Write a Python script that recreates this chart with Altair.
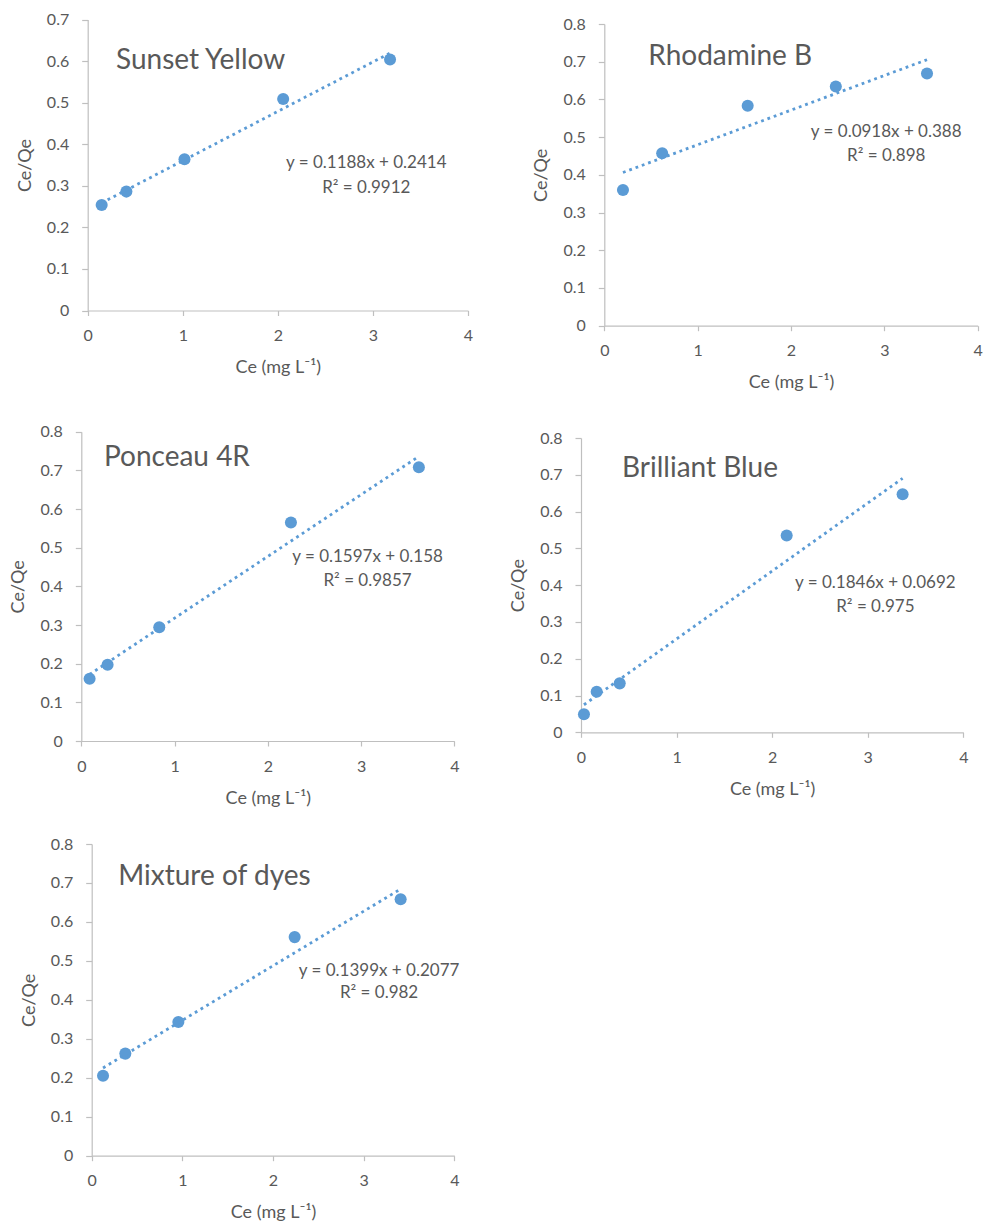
import altair as alt
import pandas as pd

# ---- shared styling -------------------------------------------------------
FONT = "Lato"
TEXT_GREY = "#595959"
AXIS_GREY = "#BFBFBF"
BLUE = "#5B9BD5"

X_TICKS = [0, 1, 2, 3, 4]
Y_TICKS_07 = [0, 0.1, 0.2, 0.3, 0.4, 0.5, 0.6, 0.7]
Y_TICKS_08 = [0, 0.1, 0.2, 0.3, 0.4, 0.5, 0.6, 0.7, 0.8]

X_TITLE = "Ce (mg L\u207b\u00b9)"
Y_TITLE = "Ce/Qe"

# ---- measured isotherm points (Ce vs Ce/Qe) --------------------------------
sunset_ce = [0.147, 0.407, 1.018, 2.056, 3.18]
sunset_ratio = [0.254, 0.286, 0.364, 0.509, 0.604]

rhodamine_ce = [0.20, 0.62, 1.536, 2.48, 3.457]
rhodamine_ratio = [0.360, 0.457, 0.583, 0.634, 0.669]

ponceau_ce = [0.089, 0.282, 0.836, 2.248, 3.62]
ponceau_ratio = [0.161, 0.197, 0.294, 0.565, 0.708]

blue_ce = [0.031, 0.164, 0.405, 2.152, 3.365]
blue_ratio = [0.049, 0.110, 0.133, 0.535, 0.647]

mixture_ce = [0.125, 0.371, 0.956, 2.239, 3.408]
mixture_ratio = [0.205, 0.262, 0.343, 0.561, 0.658]

# ---- linear fits (Langmuir linearisation) ---------------------------------
names = ["Sunset Yellow", "Rhodamine B", "Ponceau 4R", "Brilliant Blue", "Mixture of dyes"]
slopes = [0.1188, 0.0918, 0.1597, 0.1846, 0.1399]
intercepts = [0.2414, 0.388, 0.158, 0.0692, 0.2077]
r_squared = ["0.9912", "0.898", "0.9857", "0.975", "0.982"]

# ---- page tiles: two columns, three rows ----------------------------------
TILE_W = [490, 507]
TILE_H = [410, 410, 405]


def panel(name, xs, ys, slope, intercept, r2, y_ticks, tile_w, tile_h, box,
          title_at, eq_at, eq_gap):
    """One isotherm panel drawn inside a tile; box = plot rectangle (l, t, r, b) in tile pixels."""
    left, top, right, bottom = box
    y_max = y_ticks[-1]
    pts = pd.DataFrame({"ce": xs, "ratio": ys})
    x_lo, x_hi = min(xs), max(xs)
    fit = pd.DataFrame({"ce": [x_lo, x_hi],
                        "ratio": [slope * x_lo + intercept, slope * x_hi + intercept]})

    x_enc = alt.X("ce:Q",
                  scale=alt.Scale(domain=[0, 4], nice=False, zero=True, range=[left, right]),
                  axis=alt.Axis(values=X_TICKS, title=X_TITLE, format="d",
                                offset=-(tile_h - bottom)))
    y_enc = alt.Y("ratio:Q",
                  scale=alt.Scale(domain=[0, y_max], nice=False, zero=True, range=[bottom, top]),
                  axis=alt.Axis(values=y_ticks, title=Y_TITLE, format=".1~f",
                                offset=-left))

    points = alt.Chart(pts).mark_circle(size=145, opacity=1, color=BLUE).encode(x=x_enc, y=y_enc)
    trend = alt.Chart(fit).mark_line(color=BLUE, strokeWidth=2.8,
                                     strokeDash=[2.8, 3.9]).encode(x="ce:Q", y="ratio:Q")

    label = alt.Chart(pd.DataFrame({"ce": [title_at[0]], "ratio": [title_at[1]], "t": [name]})).mark_text(
        align="left", baseline="alphabetic", font=FONT, fontSize=28, color=TEXT_GREY
    ).encode(x="ce:Q", y="ratio:Q", text="t:N")

    eq_lines = [
        f"y = {slope}x + {intercept}",
        f"R\u00b2 = {r2}",
    ]
    eq_df = pd.DataFrame({"ce": [eq_at[0], eq_at[0]],
                          "ratio": [eq_at[1], eq_at[1] - eq_gap],
                          "t": eq_lines})
    eq = alt.Chart(eq_df).mark_text(
        align="center", baseline="middle", font=FONT, fontSize=17, color=TEXT_GREY
    ).encode(x="ce:Q", y="ratio:Q", text="t:N")

    return alt.layer(points, trend, label, eq).properties(width=tile_w, height=tile_h)


p1 = panel(names[0], sunset_ce, sunset_ratio, slopes[0], intercepts[0], r_squared[0],
           Y_TICKS_07, TILE_W[0], TILE_H[0], (87.7, 19.5, 468, 310.5),
           (0.298, 0.58), (2.93, 0.355), 0.06)
p2 = panel(names[1], rhodamine_ce, rhodamine_ratio, slopes[1], intercepts[1], r_squared[1],
           Y_TICKS_08, TILE_W[1], TILE_H[0], (114.3, 24, 487.7, 325.7),
           (0.471, 0.691), (3.02, 0.513), 0.062)
p3 = panel(names[2], ponceau_ce, ponceau_ratio, slopes[2], intercepts[2], r_squared[2],
           Y_TICKS_08, TILE_W[0], TILE_H[1], (81.3, 21.7, 454.3, 331),
           (0.243, 0.712), (3.07, 0.477), 0.062)
p4 = panel(names[3], blue_ce, blue_ratio, slopes[3], intercepts[3], r_squared[3],
           Y_TICKS_08, TILE_W[1], TILE_H[1], (91, 28, 473.3, 322.3),
           (0.429, 0.695), (3.08, 0.405), 0.065)
p5 = panel(names[4], mixture_ce, mixture_ratio, slopes[4], intercepts[4], r_squared[4],
           Y_TICKS_08, TILE_W[0], TILE_H[2], (91.7, 24, 454.3, 335.7),
           (0.293, 0.695), (3.17, 0.475), 0.058)

chart = alt.concat(p1, p2, p3, p4, p5, columns=2, spacing=0, bounds="flush").properties(
    padding=0
).configure_view(stroke=None).configure_axis(
    grid=False,
    domainColor=AXIS_GREY,
    domainWidth=1.2,
    tickColor=AXIS_GREY,
    tickWidth=1.2,
    labelFont=FONT,
    labelFontSize=16,
    labelColor=TEXT_GREY,
    titleFont=FONT,
    titleFontSize=18,
    titleFontWeight="normal",
    titleColor=TEXT_GREY,
).configure_axisX(
    tickSize=5, labelPadding=12, titlePadding=15, labelFlush=False
).configure_axisY(
    tickSize=6, labelPadding=13, titlePadding=12, labelFlush=False
)

chart.save("out.html", embed_options={"renderer": "svg", "actions": False})
